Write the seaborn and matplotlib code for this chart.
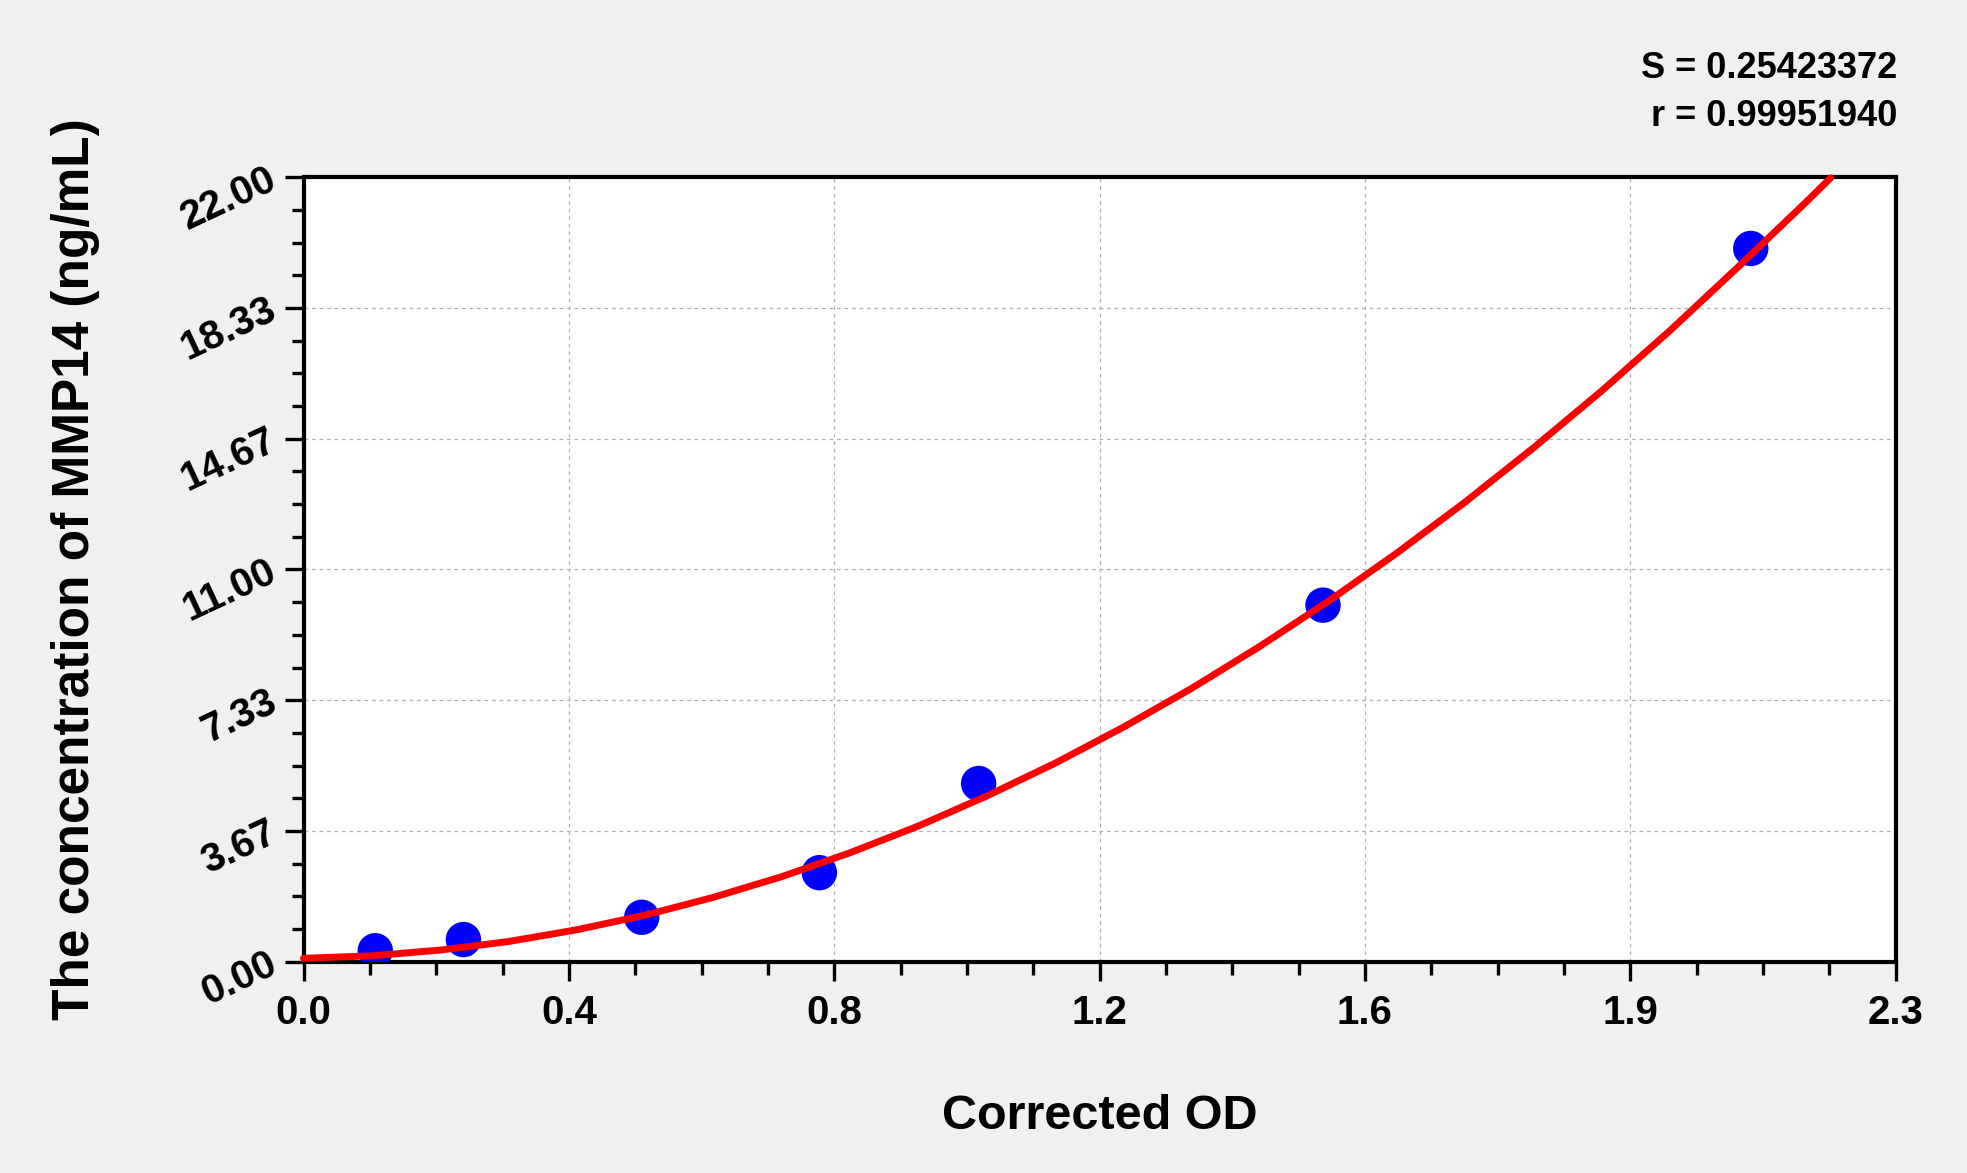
"""
MMP14 ELISA standard curve
"""

import numpy as np
import pandas as pd
import matplotlib
matplotlib.use('Agg')
import matplotlib.pyplot as plt
from matplotlib.ticker import AutoMinorLocator, FixedLocator, FixedFormatter
import seaborn as sns

# Standards: corrected OD vs known concentration (ng/mL)
std_od = [0.105, 0.234, 0.495, 0.755, 0.988, 1.492, 2.118]
std_conc = [0.312, 0.625, 1.25, 2.5, 5.0, 10.0, 20.0]

# Fitted curve
curve_od = [0.00, 0.10, 0.20, 0.30, 0.40, 0.50, 0.60, 0.70, 0.80, 0.90,
            1.00, 1.10, 1.20, 1.30, 1.40, 1.50, 1.60, 1.70, 1.80, 1.90,
            2.00, 2.10, 2.20, 2.235]
curve_conc = [0.10, 0.17, 0.33, 0.57, 0.90, 1.31, 1.81, 2.39, 3.06, 3.81,
              4.65, 5.57, 6.58, 7.67, 8.85, 10.11, 11.46, 12.89, 14.41, 16.01,
              17.70, 19.49, 21.32, 21.98]

x_tick_labels = ['0.0', '0.4', '0.8', '1.2', '1.6', '1.9', '2.3']
y_tick_labels = ['0.00', '3.67', '7.33', '11.00', '14.67', '18.33', '22.00']

fit_s = 'S = 0.25423372'
fit_r = 'r = 0.99951940'

X_MAX = 2.33
Y_MAX = 22.0

std_df = pd.DataFrame({'od': std_od, 'conc': std_conc})
curve_df = pd.DataFrame({'od': curve_od, 'conc': curve_conc})

sns.set_style('white')
plt.rcParams['font.family'] = ['Liberation Sans', 'DejaVu Sans']
plt.rcParams['font.weight'] = 'bold'
plt.rcParams['text.color'] = 'black'
plt.rcParams['axes.labelcolor'] = 'black'
plt.rcParams['xtick.color'] = 'black'
plt.rcParams['ytick.color'] = 'black'

fig = plt.figure(figsize=(19.67, 11.73), dpi=100, facecolor='#F0F0F0')
ax = fig.add_axes([0.1543, 0.180, 0.8094, 0.669])
ax.set_facecolor('white')

# points first, red fit drawn over them
sns.scatterplot(data=std_df, x='od', y='conc', ax=ax, color='#0000FF',
                s=650, edgecolor='none', zorder=3, legend=False)
sns.lineplot(data=curve_df, x='od', y='conc', ax=ax, color='#FF0000',
             linewidth=5, estimator=None, sort=False, zorder=4, clip_on=False)

ax.set_xlim(0, X_MAX)
ax.set_ylim(0, Y_MAX)

ax.xaxis.set_major_locator(FixedLocator(np.linspace(0, X_MAX, len(x_tick_labels))))
ax.xaxis.set_major_formatter(FixedFormatter(x_tick_labels))
ax.yaxis.set_major_locator(FixedLocator(np.linspace(0, Y_MAX, len(y_tick_labels))))
ax.yaxis.set_major_formatter(FixedFormatter(y_tick_labels))
ax.xaxis.set_minor_locator(AutoMinorLocator(4))
ax.yaxis.set_minor_locator(AutoMinorLocator(4))

ax.tick_params(which='major', direction='out', length=14, width=2.4,
               color='black', labelcolor='black', bottom=True, left=True)
ax.tick_params(which='minor', direction='out', length=9, width=2.4,
               color='black', bottom=True, left=True)
ax.tick_params(axis='x', which='major', pad=9, labelsize=29)
ax.tick_params(axis='y', which='major', pad=7, labelsize=29)

for lbl in ax.get_xticklabels():
    lbl.set_fontweight('bold')
for lbl in ax.get_yticklabels():
    lbl.set_fontweight('bold')
    lbl.set_rotation(25)
    lbl.set_rotation_mode('anchor')
    lbl.set_ha('right')
    lbl.set_va('center')

ax.grid(True, which='major', linestyle=(0, (3, 3)), color='#B0B0B0', linewidth=0.9)
ax.set_axisbelow(True)

for side in ['top', 'bottom', 'left', 'right']:
    ax.spines[side].set_visible(True)
    ax.spines[side].set_color('black')
    ax.spines[side].set_linewidth(3)

ax.set_xlabel('Corrected OD', fontsize=35, fontweight='bold')
ax.set_ylabel('The concentration of MMP14 (ng/mL)', fontsize=37, fontweight='bold')
ax.xaxis.set_label_coords(0.5, -0.168)
ax.yaxis.set_label_coords(-0.128, 0.5)

fig.text(0.9644, 0.9335, fit_s, ha='right', va='baseline', fontsize=26, fontweight='bold')
fig.text(0.9644, 0.8926, fit_r, ha='right', va='baseline', fontsize=26, fontweight='bold')

fig.savefig('out.png', dpi=100, facecolor=fig.get_facecolor())
plt.close(fig)
